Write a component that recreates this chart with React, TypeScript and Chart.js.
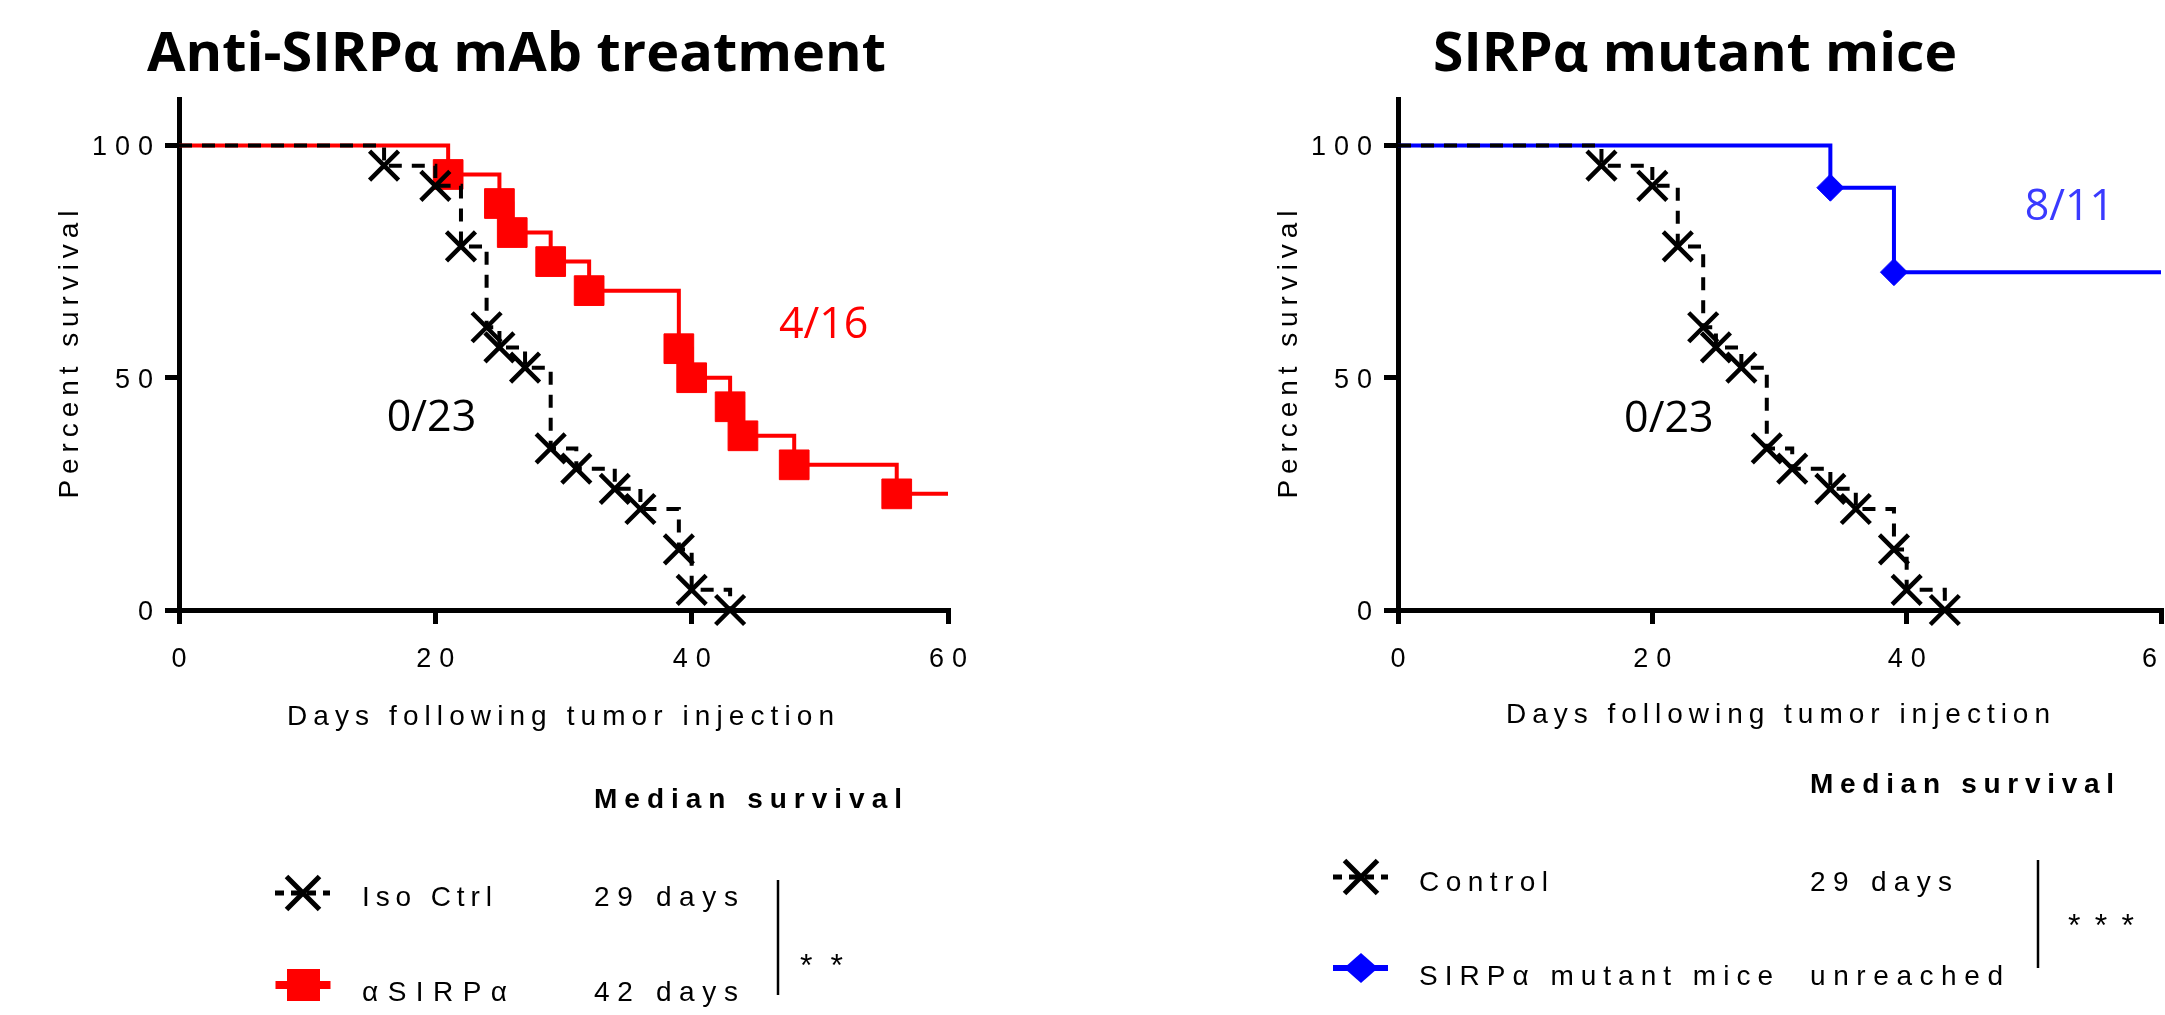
import React, { useEffect, useRef } from 'react';
import { Chart, registerables } from 'chart.js';

Chart.register(...registerables);

// ---------- data ----------
const controlDays = [0, 16, 20, 22, 24, 25, 27, 29, 31, 34, 36, 39, 40, 43];
const controlSurvival = [100, 95.65, 91.3, 78.26, 60.87, 56.52, 52.17, 34.78, 30.43, 26.09, 21.74, 13.04, 4.35, 0];
const antiDays = [0, 21, 25, 26, 29, 32, 39, 40, 43, 44, 48, 56, 60];
const antiSurvival = [100, 93.75, 87.5, 81.25, 75, 68.75, 56.25, 50, 43.75, 37.5, 31.25, 25, 25];
const mutantDays = [0, 34, 39, 60];
const mutantSurvival = [100, 90.91, 72.73, 72.73];
const xTickValues = [0, 20, 40, 60];
const yTickValues = [0, 50, 100];

const titleA = 'Anti-SIRPα mAb treatment';
const titleB = 'SIRPα mutant mice';
const xTitle = 'Days following tumor injection';
const yTitle = 'Percent survival';
const legendHeader = 'Median survival';
const legendA = ['Iso Ctrl', 'αSIRPα'];
const mediansA = ['29 days', '42 days'];
const signifA = '**';
const legendB = ['Control', 'SIRPα mutant mice'];
const mediansB = ['29 days', 'unreached'];
const signifB = '***';
const annotA = [
  { text: '0/23', x: 19.7, y: 41.9, color: '#000000' },
  { text: '4/16', x: 50.3, y: 61.8, color: '#ff0000' },
];
const annotB = [
  { text: '0/23', x: 21.3, y: 41.6, color: '#000000' },
  { text: '8/11', x: 52.8, y: 87.3, color: '#3a3aff' },
];

// ---------- helpers ----------
const SANS = '"Liberation Sans", Arial, sans-serif';
const TFONT = '"Open Sans", "Noto Sans", sans-serif';

function spaced(ctx: CanvasRenderingContext2D, text: string, left: number, right: number, baseline: number, font: string, color = '#000') {
  ctx.save();
  ctx.font = font;
  ctx.fillStyle = color;
  ctx.textAlign = 'left';
  ctx.textBaseline = 'alphabetic';
  const chars = Array.from(text);
  const widths = chars.map((c) => ctx.measureText(c).width);
  const sum = widths.reduce((a, b) => a + b, 0);
  const gap = chars.length > 1 ? (right - left - sum) / (chars.length - 1) : 0;
  let x = left;
  chars.forEach((c, i) => {
    ctx.fillText(c, x, baseline);
    x += widths[i] + gap;
  });
  ctx.restore();
}

function spacedFixed(ctx: CanvasRenderingContext2D, text: string, x: number, baseline: number, gap: number, align: 'left' | 'center' | 'right', font: string) {
  ctx.save();
  ctx.font = font;
  const chars = Array.from(text);
  const widths = chars.map((c) => ctx.measureText(c).width);
  const total = widths.reduce((a, b) => a + b, 0) + gap * (chars.length - 1);
  const left = align === 'left' ? x : align === 'center' ? x - total / 2 : x - total;
  ctx.restore();
  spaced(ctx, text, left, left + total, baseline, font);
}

function fitted(ctx: CanvasRenderingContext2D, text: string, left: number, right: number, baseline: number, font: string) {
  ctx.save();
  ctx.font = font;
  ctx.fillStyle = '#000';
  ctx.textAlign = 'left';
  ctx.textBaseline = 'alphabetic';
  const w = ctx.measureText(text).width;
  ctx.translate(left, baseline);
  ctx.scale((right - left) / w, 1);
  ctx.fillText(text, 0, 0);
  ctx.restore();
}

function markerRadii(values: number[], r: number) {
  return values.map((v, i) => (i > 0 && v < values[i - 1] ? r : 0));
}

function toPoints(xs: number[], ys: number[]) {
  return xs.map((x, i) => ({ x, y: ys[i] }));
}

const controlDataset = () => ({
  label: 'Control',
  data: toPoints(controlDays, controlSurvival),
  borderColor: '#000000',
  borderWidth: 4,
  borderDash: [13, 10],
  stepped: true,
  fill: false,
  pointStyle: 'crossRot',
  pointRadius: markerRadii(controlSurvival, 20.5),
  pointHoverRadius: 0,
  pointBorderWidth: 4.5,
  pointBorderColor: '#000000',
  pointBackgroundColor: '#000000',
  clip: false,
});

const antiDataset = () => ({
  label: 'aSIRPa',
  data: toPoints(antiDays, antiSurvival),
  borderColor: '#ff0000',
  borderWidth: 4,
  stepped: true,
  fill: false,
  pointStyle: 'rect',
  pointRadius: markerRadii(antiSurvival, 21),
  pointHoverRadius: 0,
  pointBorderWidth: 1,
  pointBorderColor: '#ff0000',
  pointBackgroundColor: '#ff0000',
  clip: false,
});

const mutantDataset = () => ({
  label: 'mutant',
  data: toPoints(mutantDays, mutantSurvival),
  borderColor: '#0000ff',
  borderWidth: 4,
  stepped: true,
  fill: false,
  pointStyle: 'rectRot',
  pointRadius: markerRadii(mutantSurvival, 13.5),
  pointHoverRadius: 0,
  pointBorderWidth: 1,
  pointBorderColor: '#0000ff',
  pointBackgroundColor: '#0000ff',
  clip: false,
});

const CANVAS_H = 1015;
const AXIS_BOTTOM = 610;
const AXIS_TOP = 99;

function drawX(ctx: CanvasRenderingContext2D, cx: number, cy: number, half: number, lw: number) {
  ctx.save();
  ctx.strokeStyle = '#000';
  ctx.lineWidth = lw;
  ctx.setLineDash([]);
  ctx.beginPath();
  ctx.moveTo(cx - half, cy - half);
  ctx.lineTo(cx + half, cy + half);
  ctx.moveTo(cx - half, cy + half);
  ctx.lineTo(cx + half, cy - half);
  ctx.stroke();
  ctx.restore();
}

function drawCommon(chart: any, p: any) {
  const ctx: CanvasRenderingContext2D = chart.ctx;
  const xs = chart.scales.x;
  const ys = chart.scales.y;
  const area = chart.chartArea;
  const tickFont = `400 27px ${SANS}`;
  // title
  fitted(ctx, p.title, p.titleL, p.titleR, 71, `700 54px ${TFONT}`);
  // y ticks
  yTickValues.forEach((v) => {
    spacedFixed(ctx, String(v), area.left - 26, ys.getPixelForValue(v) + 10, 8, 'right', tickFont);
  });
  // x ticks
  xTickValues.forEach((v) => {
    spacedFixed(ctx, String(v), xs.getPixelForValue(v), 667, 8, 'center', tickFont);
  });
  // axis titles
  spaced(ctx, xTitle, p.xtL, p.xtR, p.xtB, `400 28px ${SANS}`);
  ctx.save();
  ctx.translate(area.left - 101, (area.top + area.bottom) / 2);
  ctx.rotate(-Math.PI / 2);
  spaced(ctx, yTitle, -144, 144, 0, `400 28px ${SANS}`);
  ctx.restore();
  // annotations
  p.annots.forEach((a: any) => {
    ctx.save();
    ctx.font = `400 43px ${TFONT}`;
    ctx.fillStyle = a.color;
    ctx.textAlign = 'center';
    ctx.textBaseline = 'alphabetic';
    ctx.fillText(a.text, xs.getPixelForValue(a.x), ys.getPixelForValue(a.y) + 15.5);
    ctx.restore();
  });
  // legend table
  const lf = `400 28px ${SANS}`;
  spaced(ctx, legendHeader, p.medL, p.medR, p.headB, `700 28px ${SANS}`);
  spaced(ctx, p.names[0], p.nameL, p.nameR[0], p.rowB[0], lf);
  spaced(ctx, p.names[1], p.nameL, p.nameR[1], p.rowB[1], lf);
  spaced(ctx, p.medians[0], p.medL, p.medValR[0], p.rowB[0], lf);
  spaced(ctx, p.medians[1], p.medL, p.medValR[1], p.rowB[1], lf);
  // separator
  ctx.save();
  ctx.strokeStyle = '#000';
  ctx.lineWidth = 2.5;
  ctx.beginPath();
  ctx.moveTo(p.sepX, p.sepT);
  ctx.lineTo(p.sepX, p.sepB);
  ctx.stroke();
  ctx.restore();
  spaced(ctx, p.signif, p.sigL, p.sigR, p.sigB, `400 32px ${SANS}`);
  // legend markers: control
  const c0 = p.mk[0];
  ctx.save();
  ctx.strokeStyle = '#000';
  ctx.lineWidth = 5;
  ctx.setLineDash([9, 7]);
  ctx.beginPath();
  ctx.moveTo(c0.x - 28, c0.y);
  ctx.lineTo(c0.x + 27, c0.y);
  ctx.stroke();
  ctx.restore();
  drawX(ctx, c0.x, c0.y, 16.5, 5);
  // legend marker: treatment
  const c1 = p.mk[1];
  ctx.save();
  ctx.strokeStyle = p.color;
  ctx.fillStyle = p.color;
  ctx.lineWidth = p.legLineW;
  ctx.beginPath();
  ctx.moveTo(c1.x - 28, c1.y);
  ctx.lineTo(c1.x + 27, c1.y);
  ctx.stroke();
  ctx.beginPath();
  if (p.shape === 'square') {
    ctx.rect(c1.x - 16.5, c1.y - 16, 33, 32);
  } else {
    ctx.moveTo(c1.x - 17, c1.y);
    ctx.lineTo(c1.x, c1.y - 15);
    ctx.lineTo(c1.x + 17, c1.y);
    ctx.lineTo(c1.x, c1.y + 15);
    ctx.closePath();
  }
  ctx.fill();
  ctx.restore();
}

function buildConfig(width: number, axisLeft: number, axisRight: number, datasets: any[], panel: any): any {
  return {
    type: 'line',
    data: { datasets },
    options: {
      responsive: false,
      animation: false,
      devicePixelRatio: 1,
      events: [],
      layout: { autoPadding: false, padding: { left: 0, top: AXIS_TOP, right: width - axisRight, bottom: 0 } },
      plugins: { legend: { display: false }, tooltip: { enabled: false }, title: { display: false } },
      scales: {
        x: {
          type: 'linear',
          min: 0,
          max: 60,
          afterBuildTicks: (s: any) => {
            s.ticks = xTickValues.map((v) => ({ value: v }));
          },
          afterFit: (s: any) => {
            s.height = CANVAS_H - AXIS_BOTTOM;
          },
          grid: { display: true, drawOnChartArea: false, drawTicks: true, tickLength: 14, lineWidth: 5, color: '#000' },
          border: { display: true, width: 5, color: '#000' },
          ticks: { display: false },
        },
        y: {
          type: 'linear',
          min: 0,
          max: 110,
          afterBuildTicks: (s: any) => {
            s.ticks = yTickValues.map((v) => ({ value: v }));
          },
          afterFit: (s: any) => {
            s.width = axisLeft;
          },
          grid: { display: true, drawOnChartArea: false, drawTicks: true, tickLength: 14, lineWidth: 5, color: '#000' },
          border: { display: true, width: 5, color: '#000' },
          ticks: { display: false },
        },
      },
    },
    plugins: [
      {
        id: 'overlay',
        afterDraw: (chart: any) => drawCommon(chart, panel),
      },
    ],
  };
}

const panelA = {
  title: titleA, titleL: 147, titleR: 886,
  xtL: 287, xtR: 834, xtB: 725,
  annots: annotA,
  medL: 594, medR: 902, headB: 808,
  names: legendA, nameL: 362, nameR: [492, 507],
  medians: mediansA, medValR: [738, 738],
  rowB: [906, 1001],
  sepX: 778, sepT: 880, sepB: 995,
  signif: signifA, sigL: 800, sigR: 843, sigB: 976,
  mk: [{ x: 303, y: 893 }, { x: 303.5, y: 985 }],
  color: '#ff0000', legLineW: 8, shape: 'square',
};

const OFF = 1082;
const panelB = {
  title: titleB, titleL: 1433 - OFF, titleR: 1957 - OFF,
  xtL: 1506 - OFF, xtR: 2050 - OFF, xtB: 723,
  annots: annotB,
  medL: 1810 - OFF, medR: 2114 - OFF, headB: 793,
  names: legendB, nameL: 1419 - OFF, nameR: [1548 - OFF, 1773 - OFF],
  medians: mediansB, medValR: [1952 - OFF, 2003 - OFF],
  rowB: [891, 985],
  sepX: 2038 - OFF, sepT: 860, sepB: 968,
  signif: signifB, sigL: 2068 - OFF, sigR: 2134 - OFF, sigB: 936,
  mk: [{ x: 1361 - OFF, y: 877 }, { x: 1361 - OFF, y: 968 }],
  color: '#0000ff', legLineW: 6, shape: 'diamond',
};

export default function App() {
  const refA = useRef<HTMLCanvasElement>(null);
  const refB = useRef<HTMLCanvasElement>(null);
  useEffect(() => {
    const a = new Chart(refA.current as HTMLCanvasElement, buildConfig(1082, 179, 948, [controlDataset(), antiDataset()], panelA));
    const b = new Chart(refB.current as HTMLCanvasElement, buildConfig(1083, 1398 - OFF, 2161 - OFF, [controlDataset(), mutantDataset()], panelB));
    return () => {
      a.destroy();
      b.destroy();
    };
  }, []);
  return (
    <div style={{ position: 'absolute', left: 0, top: 0, width: 2165, height: 1015, background: '#fff', overflow: 'hidden' }}>
      <canvas ref={refA} width={1082} height={1015} style={{ position: 'absolute', left: 0, top: 0, width: 1082, height: 1015 }} />
      <canvas ref={refB} width={1083} height={1015} style={{ position: 'absolute', left: OFF, top: 0, width: 1083, height: 1015 }} />
    </div>
  );
}
